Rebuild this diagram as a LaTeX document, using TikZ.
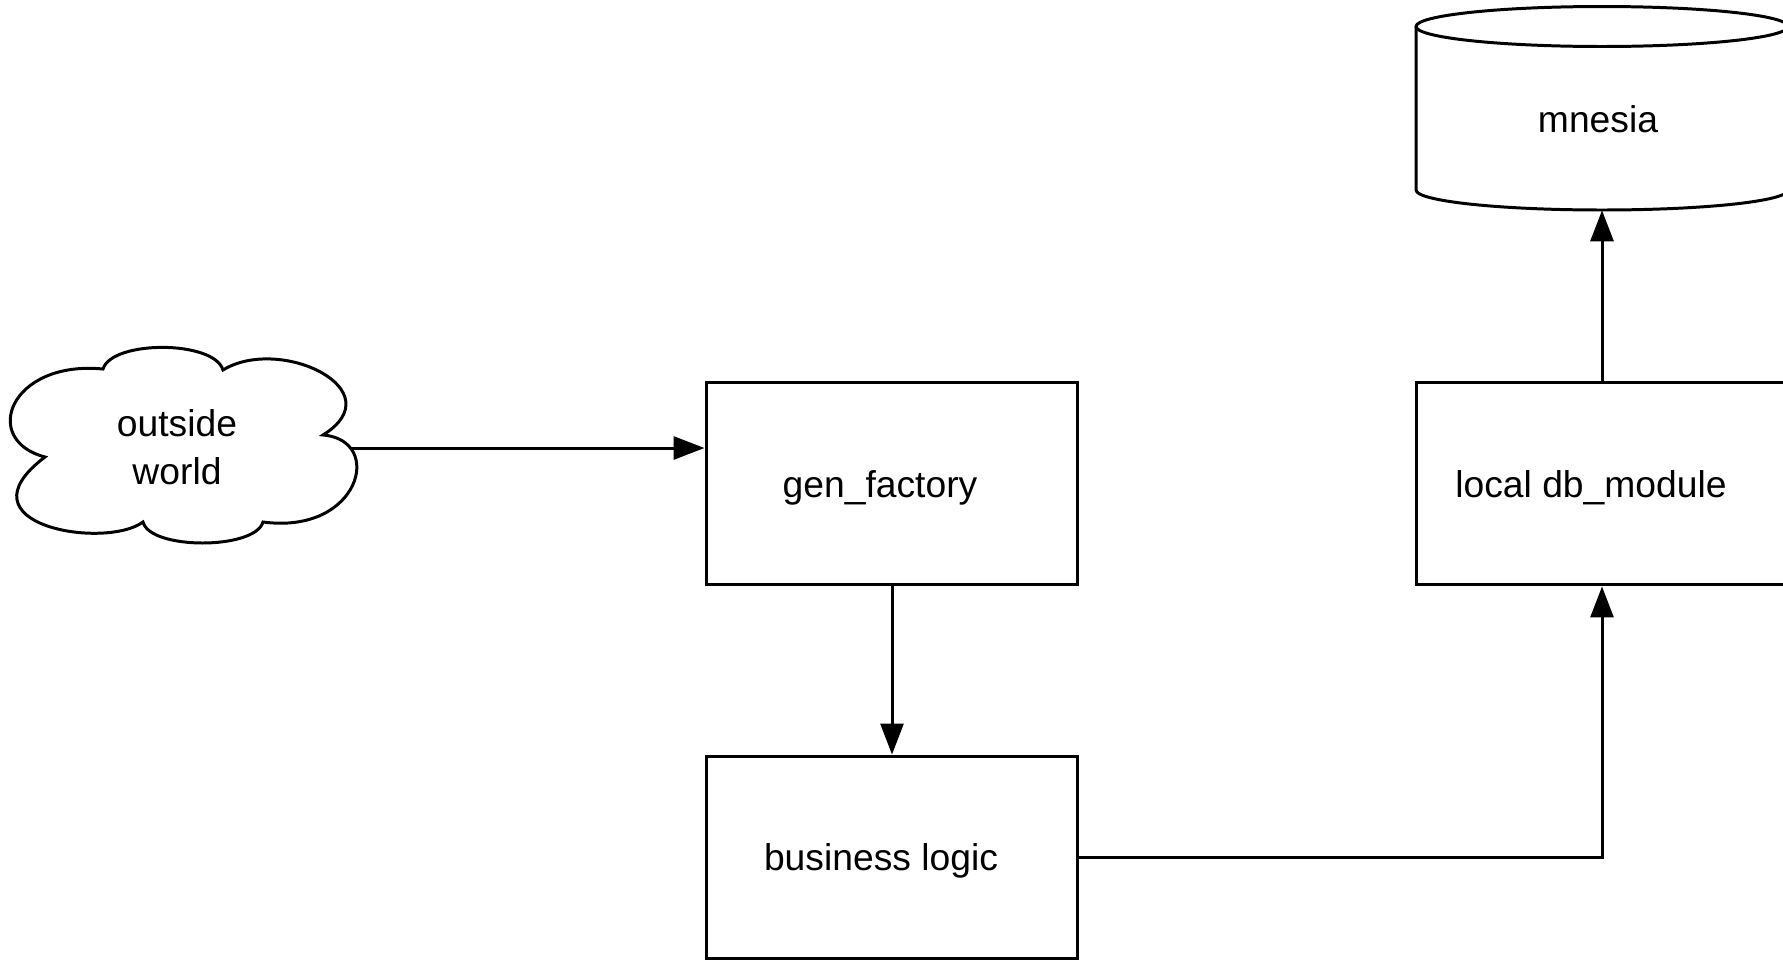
\documentclass[tikz,border=0pt]{standalone}
\usepackage{fontspec}
\setmainfont{Liberation Sans}
\usetikzlibrary{arrows.meta,calc}
\begin{document}
\begin{tikzpicture}[x=0.02cm, y=-0.02cm,
  every node/.style={font=\fontsize{21.2}{27.2}\selectfont},
  outline/.style={draw=black, line width=1.7pt, line join=miter},
  box/.style={outline, rectangle, minimum width=7.44cm, minimum height=4.06cm, inner sep=0pt},
  frame/.style={rectangle, inner sep=0pt},
  labeltext/.style={inner sep=0pt, align=center},
  flow/.style={draw=black, line width=1.7pt, -{Triangle[length=0.62cm, width=0.46cm]}},
]
\clip (0,0) rectangle (1783,961);

% outside world: cloud outline around an invisible frame
\node[frame, minimum width=6.86cm, minimum height=3.92cm] (cloud) at (183,445) {};
\begin{scope}[shift={(cloud.center)}]
  \draw[outline] (-80,-76)
    .. controls (-71,-105) and (31,-105) .. (40,-75)
    .. controls (97,-110) and (212,-55) .. (140,-10)
    .. controls (202,-5) and (177,90) .. (80,77)
    .. controls (72,105) and (-33,105) .. (-40,77)
    .. controls (-78,105) and (-228,80) .. (-138,12)
    .. controls (-203,-5) and (-173,-85) .. (-80,-76) -- cycle;
\end{scope}
\node[labeltext] (cloudlabel) at (177,447) {outside\\world};
\coordinate (cloudport) at ([shift={(168,3)}]cloud.center);

% process boxes
\node[box] (gen) at (892,483.5) {};
\node[labeltext] (genlabel) at (880,487.5) {gen\_factory};
\node[box] (biz) at (892,857.5) {};
\node[labeltext] (bizlabel) at (881,861) {business logic};
\node[box] (db) at (1602,483.5) {};
\node[labeltext] (dblabel) at (1591,487.5) {local db\_module};

% mnesia storage cylinder
\node[frame, minimum width=7.44cm, minimum height=4.07cm] (mnesia) at (1602,108.25) {};
\begin{scope}[shift={(mnesia.center)}]
  \draw[outline] (0,-81.75) ellipse [x radius=3.72cm, y radius=0.4cm];
  \draw[outline] (-186,-81.75) -- (-186,81.75)
    arc[start angle=180, end angle=360, x radius=3.72cm, y radius=0.4cm]
    -- (186,-81.75);
\end{scope}
\node[labeltext] (mnesialabel) at (1598,119) {mnesia};

% connectors
\draw[flow] (cloudport) -- (cloudport -| gen.west);
\draw[flow] (gen.south) -- (biz.north);
\draw[flow] (biz.east) -| (db.south);
\draw[flow] (db.north) -- (mnesia.south);
\end{tikzpicture}
\end{document}
